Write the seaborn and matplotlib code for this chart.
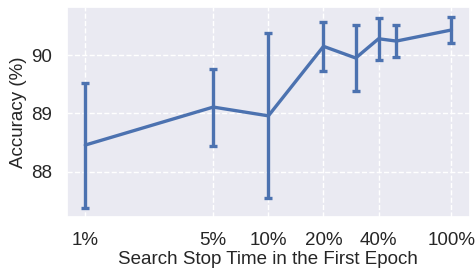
import matplotlib
matplotlib.use('Agg')
import matplotlib.pyplot as plt
import seaborn as sns
import pandas as pd

stop_time = [1, 5, 10, 20, 30, 40, 50, 100]
accuracy = [88.46, 89.11, 88.96, 90.15, 89.95, 90.28, 90.24, 90.43]
err = [1.07, 0.66, 1.41, 0.42, 0.57, 0.36, 0.28, 0.23]
tick_vals = [1, 5, 10, 20, 40, 100]
tick_labels = ['1%', '5%', '10%', '20%', '40%', '100%']

sns.set_theme(style="darkgrid", rc={'grid.linestyle': '--'})
plt.rcParams['font.family'] = ['Liberation Sans', 'DejaVu Sans']

df = pd.DataFrame({'stop': stop_time, 'acc': accuracy, 'err': err})

fig, ax = plt.subplots(figsize=(4.75, 2.69), dpi=100)
color = sns.color_palette('deep')[0]
sns.lineplot(x='stop', y='acc', data=df, color=color, linewidth=2.4, ax=ax)
ax.errorbar(df['stop'], df['acc'], yerr=df['err'], fmt='none', ecolor=color,
            elinewidth=2.4, capsize=3, capthick=2.4)
ax.set_xscale('log')
ax.set_xticks(tick_vals)
ax.set_xticklabels(tick_labels)
ax.minorticks_off()
ax.set_yticks([88, 89, 90])
ax.tick_params(labelsize=13.5, pad=5)
ax.set_xlabel('Search Stop Time in the First Epoch', fontsize=13.5, labelpad=1)
ax.set_ylabel('Accuracy (%)', fontsize=13.5, labelpad=3)

fig.subplots_adjust(left=0.141, right=0.989, top=0.974, bottom=0.193)
fig.savefig('out.png')
